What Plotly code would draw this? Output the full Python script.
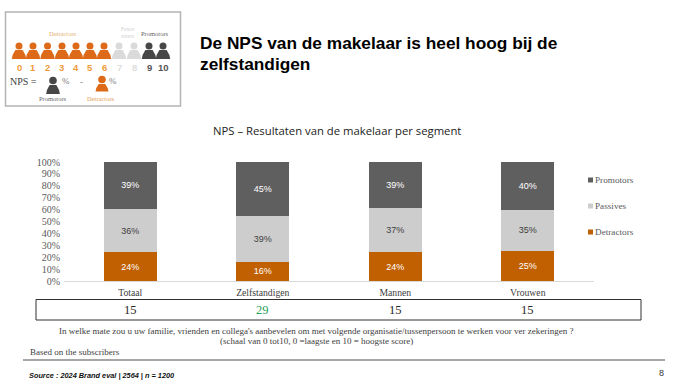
import plotly.graph_objects as go

W, H = 700, 390
categories = ["Totaal", "Zelfstandigen", "Mannen", "Vrouwen"]
detractors = [24, 16, 24, 25]
passives = [36, 39, 37, 35]
promotors = [39, 45, 39, 40]
nps = [15, 29, 15, 15]
y_ticks = list(range(0, 101, 10))

SERIF = "Liberation Serif"
SANS = "Liberation Sans"
ORANGE, LIGHT, DARK = "#C06000", "#CDCDCD", "#5F5F5F"


def px(x):
    return x / W


def py(y):
    return 1 - y / H


shapes, annos = [], []


def text(x, y, s, size=9, color="#404040", family=SERIF, anchor="left", xref="paper"):
    annos.append(dict(x=px(x) if xref == "paper" else x, y=py(y), xref=xref, yref="paper",
                      text=s, showarrow=False, xanchor=anchor, yanchor="middle", borderpad=0,
                      font=dict(size=size, color=color, family=family), align=anchor))


def rect(x0, y0, x1, y1, fill="rgba(0,0,0,0)", line=None, w=1):
    shapes.append(dict(type="rect", xref="paper", yref="paper", x0=px(x0), x1=px(x1), y0=py(y0), y1=py(y1),
                       fillcolor=fill, line=dict(color=line or fill, width=w if line else 0)))


def hline(x0, x1, y, color, w):
    shapes.append(dict(type="line", xref="paper", yref="paper", x0=px(x0), x1=px(x1), y0=py(y), y1=py(y),
                       line=dict(color=color, width=w)))


def person(cx, head_y, r, top, bottom, half, color):
    shapes.append(dict(type="circle", xref="paper", yref="paper", fillcolor=color, line=dict(width=0),
                       x0=px(cx - r), x1=px(cx + r), y0=py(head_y + r), y1=py(head_y - r)))
    mid = (top + bottom) / 2
    d = (f"M {px(cx-half)} {py(bottom)} L {px(cx+half)} {py(bottom)} "
         f"Q {px(cx+half*0.95)} {py(mid)} {px(cx+half*0.5)} {py(top)} "
         f"L {px(cx-half*0.5)} {py(top)} Q {px(cx-half*0.95)} {py(mid)} {px(cx-half)} {py(bottom)} Z")
    shapes.append(dict(type="path", xref="paper", yref="paper", path=d, fillcolor=color, line=dict(width=0)))


# Explainer graphic
rect(5.5, 12, 180.5, 106, "rgba(255,255,255,0)", "#B4B4B4", 1.5)
icon_x = [19, 33, 47.5, 62, 76, 90, 104, 119, 134, 149, 163]
icon_c = ["#DD6A18"] * 7 + ["#DADADA"] * 2 + ["#474747"] * 2
num_c = ["#EE9A3A"] * 7 + ["#DDDDDD"] * 2 + ["#555555"] * 2
for i, (x, c, nc) in enumerate(zip(icon_x, icon_c, num_c)):
    person(x, 46, 3.5, 50, 59, 7.2, c)
    text(x, 67, f"<b>{i}</b>", 9.5, nc, SANS, "center")
text(63, 33, "Detractors", 6.5, "#E3AE6B", SERIF, "center")
text(128, 32, "Fence<br>sitters", 5.5, "#D0D0D0", SERIF, "center")
text(155, 33, "Promotors", 6.5, "#666666", SERIF, "center")
text(9, 81, "NPS =", 10, "#404040", SERIF)
person(53, 80.5, 3.8, 85, 94, 6.8, "#474747")
text(61, 81, "%", 9, "#777777", SERIF)
text(81, 82, "-", 9, "#777777", SERIF, "center")
person(102, 79.5, 3.8, 84, 91.5, 6.5, "#DD6A18")
text(108, 81, "%", 9, "#777777", SERIF)
text(53, 98, "Promotors", 6.5, "#666666", SERIF, "center")
text(101, 98, "Detractors", 6.5, "#E09A50", SERIF, "center")

# Heading
text(199, 43, "<b>De NPS van de makelaar is heel hoog bij de</b>", 17.3, "#000000", SANS)
text(199, 64, "<b>zelfstandigen</b>", 17.3, "#000000", SANS)
text(337, 131, "NPS – Resultaten van de makelaar per segment", 11.3, "#222222", "Open Sans", "center")

# NPS table
rect(36, 299.5, 641, 320, "rgba(255,255,255,0)", "#303030", 1)
for c, v in zip(categories, nps):
    text(c, 310, str(v), 12.5, "#1FA25A" if v == 29 else "#262626", SERIF, "center", "x")

# Notes and footer
text(316, 331, "In welke mate zou u uw familie, vrienden en collega's aanbevelen om met volgende organisatie/tussenpersoon te werken voor ver zekeringen ?", 9, "#404040", SERIF, "center")
text(316, 341, "(schaal van 0 tot10, 0 =laagste en 10 = hoogste score)", 9, "#404040", SERIF, "center")
text(29, 352, "Based on the subscribers", 9, "#404040", SERIF)
hline(23, 665, 360, "#A6A6A6", 2)
text(28, 375, "<b><i>Source : 2024 Brand eval | 2564 | n = 1200</i></b>", 7.35, "#111111", SANS)
text(665, 373, "8", 9, "#333333", SANS, "right")

fig = go.Figure()
series = [("Detractors", detractors, ORANGE, "#FFFFFF", 232),
          ("Passives", passives, LIGHT, "#404040", 206),
          ("Promotors", promotors, DARK, "#FFFFFF", 180)]
for name, vals, col, tc, ly in series:
    fig.add_bar(name=name, x=categories, y=vals, marker=dict(color=col, line=dict(width=0)),
                text=[f"{v}%" for v in vals], textposition="inside", insidetextanchor="middle",
                textangle=0, textfont=dict(size=9, color=tc, family=SANS), cliponaxis=False)
    rect(588, ly - 2.5, 593, ly + 2.5, col)
    text(593.5, ly, name, 9.2, "#595959", SERIF)

fig.update_layout(
    width=W, height=H, autosize=False, margin=dict(l=0, r=0, t=0, b=0),
    paper_bgcolor="white", plot_bgcolor="white", barmode="stack", barnorm="percent",
    bargap=0.6, showlegend=False, shapes=shapes, annotations=annos,
    xaxis=dict(domain=[px(64), px(594)], automargin=False, showline=True, linecolor="#D9D9D9", linewidth=1,
               ticks="", ticklabelstandoff=2, tickfont=dict(size=9.7, family=SERIF, color="#404040")),
    yaxis=dict(domain=[py(281), py(162)], automargin=False, range=[0, 100], tickvals=y_ticks,
               ticktext=[f"{t}%" for t in y_ticks], showgrid=False, zeroline=False, showline=False,
               ticks="", ticklabelstandoff=3, tickfont=dict(size=10, family=SERIF, color="#595959")),
)
fig.write_html("out.html", config=dict(displayModeBar=False), post_script="document.body.style.margin='0';")
